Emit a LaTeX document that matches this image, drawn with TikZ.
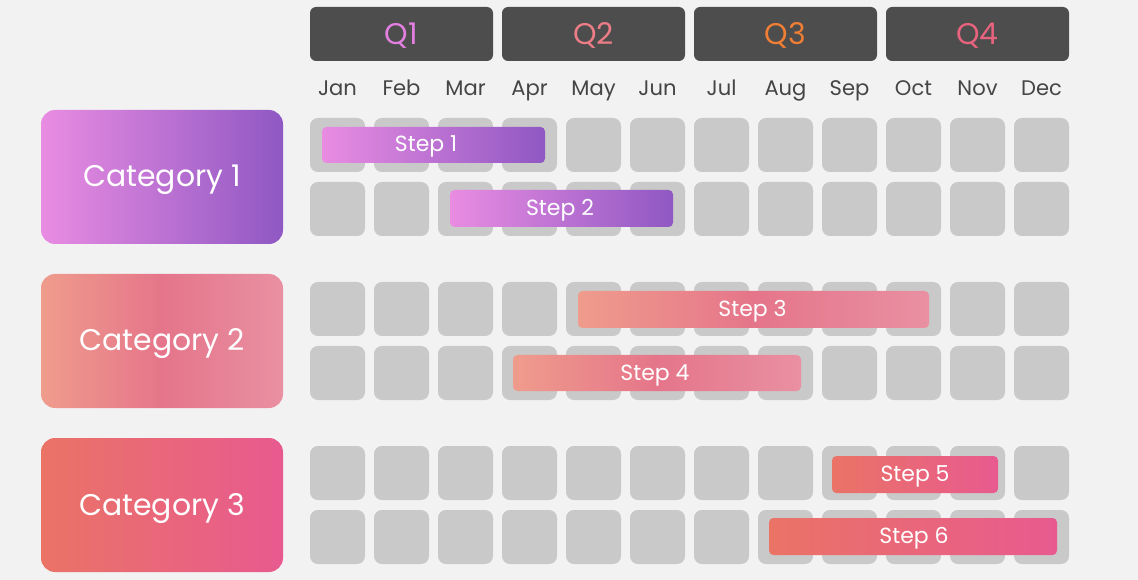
\documentclass[tikz,border=0pt]{standalone}
\usepackage{fontspec}
\setmainfont{Poppins}
\RequirePackage{xcolor}
\definecolor{GanttBg}{HTML}{F2F2F2}
\definecolor{GanttHead}{HTML}{4D4D4D}
\definecolor{GanttMonth}{HTML}{454545}
\definecolor{GanttCell}{HTML}{C9C9C9}
\definecolor{GanttQa}{HTML}{E27FE0}
\definecolor{GanttQb}{HTML}{EC7D86}
\definecolor{GanttQc}{HTML}{F07E35}
\definecolor{GanttQd}{HTML}{E8637E}
\definecolor{VioletL}{HTML}{E98CE2}
\definecolor{VioletR}{HTML}{8F58C3}
\definecolor{SalmonL}{HTML}{EF9C8C}
\definecolor{SalmonM}{HTML}{E5758A}
\definecolor{SalmonR}{HTML}{E990A2}
\definecolor{CoralL}{HTML}{EA7366}
\definecolor{CoralR}{HTML}{E85A8F}

\begin{document}
\begin{tikzpicture}[x=0.02cm,y=-0.02cm,
  cell/.style={fill=GanttCell,rounded corners=4.5pt},
  quarter/.style={anchor=base,font=\fontsize{17}{20}\selectfont},
  month/.style={anchor=base,text=GanttMonth,font=\fontsize{12}{14}\selectfont},
  catlabel/.style={anchor=base,text=white,font=\fontsize{17}{20}\selectfont},
  steplabel/.style={anchor=base,text=white,font=\fontsize{12.5}{15}\selectfont}]

% Background
\fill[GanttBg] (0,0) rectangle (1138,580);
\useasboundingbox (0,0) rectangle (1138,580);

% Quarters
\foreach \q/\col in {1/GanttQa,2/GanttQb,3/GanttQc,4/GanttQd} {
  \fill[GanttHead,rounded corners=3.5pt] ({310+192*(\q-1)},7) rectangle +(183,54);
  \node[quarter,text=\col] (q\q) at ({401.5+192*(\q-1)},45) {Q\q};
}

% Months
\foreach \m [count=\i from 0] in {Jan,Feb,Mar,Apr,May,Jun,Jul,Aug,Sep,Oct,Nov,Dec}
  \node[month] (\m) at ({337.5+64*\i},96) {\m};

% Grid
\foreach \y in {118,182,282,346,446,510}
  \foreach \i in {0,...,11}
    \fill[cell] ({310+64*\i},\y) rectangle +(55,54);

% Categories
\shade[rounded corners=8pt,left color=VioletL,right color=VioletR] (41,110) rectangle (283,244);
\node[catlabel] (cat1) at (162,187) {Category 1};

\shade[rounded corners=8pt,left color=SalmonL,right color=SalmonR,middle color=SalmonM] (41,274) rectangle (283,408);
\node[catlabel] (cat2) at (162,351) {Category 2};

\shade[rounded corners=8pt,left color=CoralL,right color=CoralR] (41,438) rectangle (283,572);
\node[catlabel] (cat3) at (162,515) {Category 3};

% Steps
\shade[rounded corners=2.5pt,left color=VioletL,right color=VioletR] (322,127) rectangle (545,163);
\node[steplabel] (step1) at (426,152) {Step 1};
\shade[rounded corners=2.5pt,left color=VioletL,right color=VioletR] (450,190) rectangle (673,227);
\node[steplabel] (step2) at (560,215.5) {Step 2};

\shade[rounded corners=2.5pt,left color=SalmonL,right color=SalmonR,middle color=SalmonM] (578,291) rectangle (929,328);
\node[steplabel] (step3) at (752.5,316.5) {Step 3};
\shade[rounded corners=2.5pt,left color=SalmonL,right color=SalmonR,middle color=SalmonM] (513,355) rectangle (801,391);
\node[steplabel] (step4) at (655,380) {Step 4};

\shade[rounded corners=2.5pt,left color=CoralL,right color=CoralR] (832,456) rectangle (998,493);
\node[steplabel] (step5) at (915,481.5) {Step 5};
\shade[rounded corners=2.5pt,left color=CoralL,right color=CoralR] (769,518) rectangle (1057,555);
\node[steplabel] (step6) at (914,543.5) {Step 6};

\end{tikzpicture}
\end{document}
